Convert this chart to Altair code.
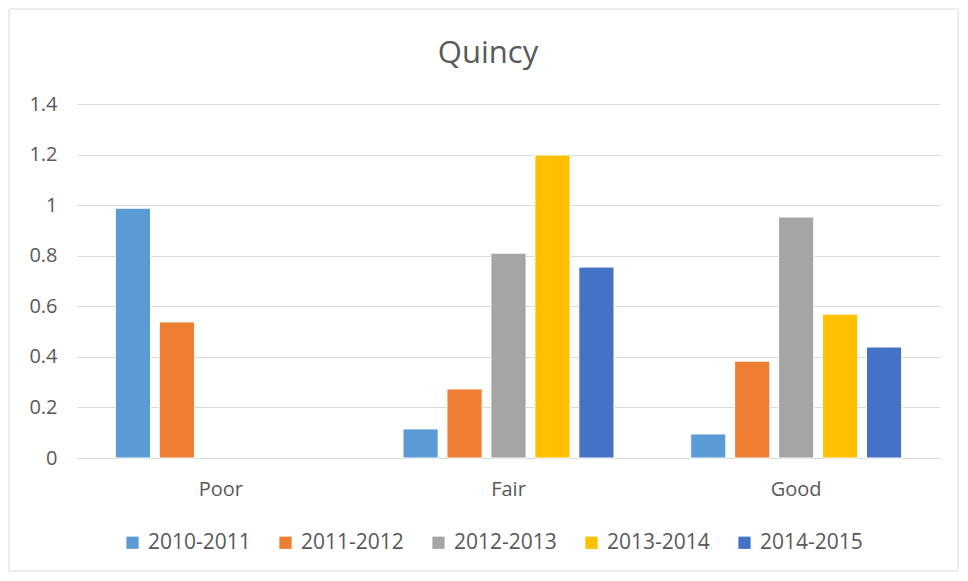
import altair as alt
import pandas as pd

title_text = "Quincy"
categories = ["Poor", "Fair", "Good"]
series = ["2010-2011", "2011-2012", "2012-2013", "2013-2014", "2014-2015"]
colors = ["#5B9BD5", "#ED7D31", "#A5A5A5", "#FFC000", "#4472C4"]

v_2010_2011 = [0.988, 0.115, 0.095]
v_2011_2012 = [0.538, 0.273, 0.383]
v_2012_2013 = [None, 0.81, 0.953]
v_2013_2014 = [None, 1.198, 0.569]
v_2014_2015 = [None, 0.755, 0.439]

y_ticks = [0, 0.2, 0.4, 0.6, 0.8, 1.0, 1.2, 1.4]

rows = []
for s, vals in zip(series, [v_2010_2011, v_2011_2012, v_2012_2013, v_2013_2014, v_2014_2015]):
    for c, v in zip(categories, vals):
        if v is not None:
            rows.append({"category": c, "series": s, "value": v})
df = pd.DataFrame(rows)

FONT = "Open Sans"
TXT = "#595959"

bars = alt.Chart(df).mark_bar(stroke="white", strokeWidth=1).encode(
    x=alt.X(
        "category:N", sort=categories,
        scale=alt.Scale(paddingInner=0.236, paddingOuter=0.118),
        axis=alt.Axis(title=None, labelAngle=0, domain=False, ticks=False,
                      labelFontSize=20, labelColor=TXT, labelFont=FONT,
                      labelPadding=21),
    ),
    xOffset=alt.XOffset("series:N", sort=series,
                        scale=alt.Scale(paddingInner=0.2, paddingOuter=0.1)),
    y=alt.Y(
        "value:Q",
        scale=alt.Scale(domain=[0, 1.4], nice=False),
        axis=alt.Axis(title=None, values=y_ticks, format="~g", domain=False,
                      ticks=False, labelFontSize=20, labelColor=TXT,
                      labelFont=FONT, labelPadding=20, gridColor="#d9d9d9",
                      gridWidth=1.2),
    ),
    color=alt.Color(
        "series:N", sort=series,
        scale=alt.Scale(domain=series, range=colors),
        legend=alt.Legend(title=None, orient="none", legendX=45, legendY=428,
                          direction="horizontal", columns=5, symbolType="square",
                          symbolSize=150, symbolStrokeWidth=0,
                          labelFontSize=21, labelFont=FONT, labelColor=TXT,
                          labelOffset=5, columnPadding=24),
    ),
)

border = alt.Chart(pd.DataFrame({"a": [0]})).mark_rect(
    fillOpacity=0, stroke="#d9d9d9", strokeWidth=1
).encode(
    x=alt.value(-68), x2=alt.value(881), y=alt.value(-95), y2=alt.value(467)
)

title = alt.Chart(pd.DataFrame({"t": [title_text]})).mark_text(
    font=FONT, fontSize=31, color=TXT, align="center", baseline="alphabetic"
).encode(text="t:N", x=alt.value(411), y=alt.value(-41))

chart = alt.layer(border, bars, title).properties(
    width=863, height=354,
    padding={"left": 69, "top": 96, "right": 20, "bottom": 115},
    autosize="none",
).configure_view(stroke=None)

chart.save("out.html", embed_options={"renderer": "svg", "actions": False})
